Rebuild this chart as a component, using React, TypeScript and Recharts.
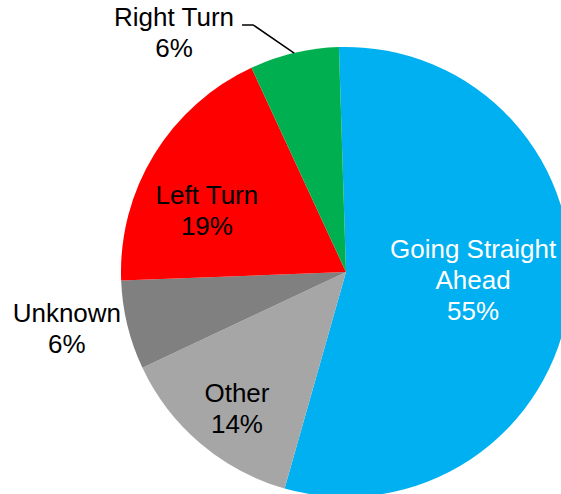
import { PieChart, Pie, Cell } from 'recharts';

const categories = ['Going Straight Ahead', 'Other', 'Unknown', 'Left Turn', 'Right Turn'];
const shares = [54.9, 13.6, 6.4, 18.7, 6.4];
const COLORS = ['#00B0F0', '#A6A6A6', '#808080', '#FF0000', '#00B050'];
const TEXT_COLORS = ['#FFFFFF', '#000000', '#000000', '#000000', '#000000'];

// where each label sits: radius factor and angle nudge from the slice middle
const LABEL_POS = [
  { r: 0.566, da: 3.4 },
  { r: 0.778, da: 1.8 },
  { r: 1.266, da: -2.2 },
  { r: 0.675, da: 7.8 },
  { r: 1.309, da: 22.4 },
];

const data = categories.map((name, i) => ({ name, value: shares[i] }));

const RAD = Math.PI / 180;
const FONT = 26;
const LINE = 31;

function splitName(name: string) {
  // long names go on two lines, like the original
  if (name.length > 15) {
    const k = name.lastIndexOf(' ');
    return [name.slice(0, k), name.slice(k + 1)];
  }
  return [name];
}

function renderLabel(props: any) {
  const { cx, cy, midAngle, outerRadius, percent, index, name } = props;
  const pos = LABEL_POS[index];
  const a = midAngle + pos.da;
  const x = cx + outerRadius * pos.r * Math.cos(-a * RAD);
  const y = cy + outerRadius * pos.r * Math.sin(-a * RAD);
  const lines = [...splitName(name), `${Math.round(percent * 100)}%`];
  const first = y - ((lines.length - 1) * LINE) / 2 + 9;

  let leader = null;
  if (name === 'Right Turn') {
    const sx = cx + outerRadius * Math.cos(-midAngle * RAD);
    const sy = cy + outerRadius * Math.sin(-midAngle * RAD);
    const ey = y - 8;
    const ex = x + 68;
    leader = (
      <polyline
        points={`${sx},${sy} ${ex + 11},${ey} ${ex},${ey}`}
        fill="none"
        stroke="#000"
        strokeWidth={1.5}
      />
    );
  }

  return (
    <g>
      {leader}
      <text
        x={x}
        y={first}
        textAnchor="middle"
        fill={TEXT_COLORS[index]}
        fontSize={FONT}
        fontFamily="Liberation Sans, Arial, sans-serif"
      >
        {lines.map((t, i) => (
          <tspan key={i} x={x} dy={i === 0 ? 0 : LINE}>
            {t}
          </tspan>
        ))}
      </text>
    </g>
  );
}

export default function App() {
  return (
    <div style={{ position: 'fixed', left: 0, top: 0, width: 561, height: 494, background: '#fff' }}>
      <PieChart width={561} height={494} margin={{ top: 0, right: 0, bottom: 0, left: 0 }}>
        <Pie
          data={data}
          dataKey="value"
          nameKey="name"
          cx={346}
          cy={272}
          outerRadius={225}
          startAngle={91.8}
          endAngle={-268.2}
          stroke="none"
          label={renderLabel}
          labelLine={false}
          isAnimationActive={false}
        >
          {data.map((entry, index) => (
            <Cell key={`cell-${index}`} fill={COLORS[index]} />
          ))}
        </Pie>
      </PieChart>
    </div>
  );
}
